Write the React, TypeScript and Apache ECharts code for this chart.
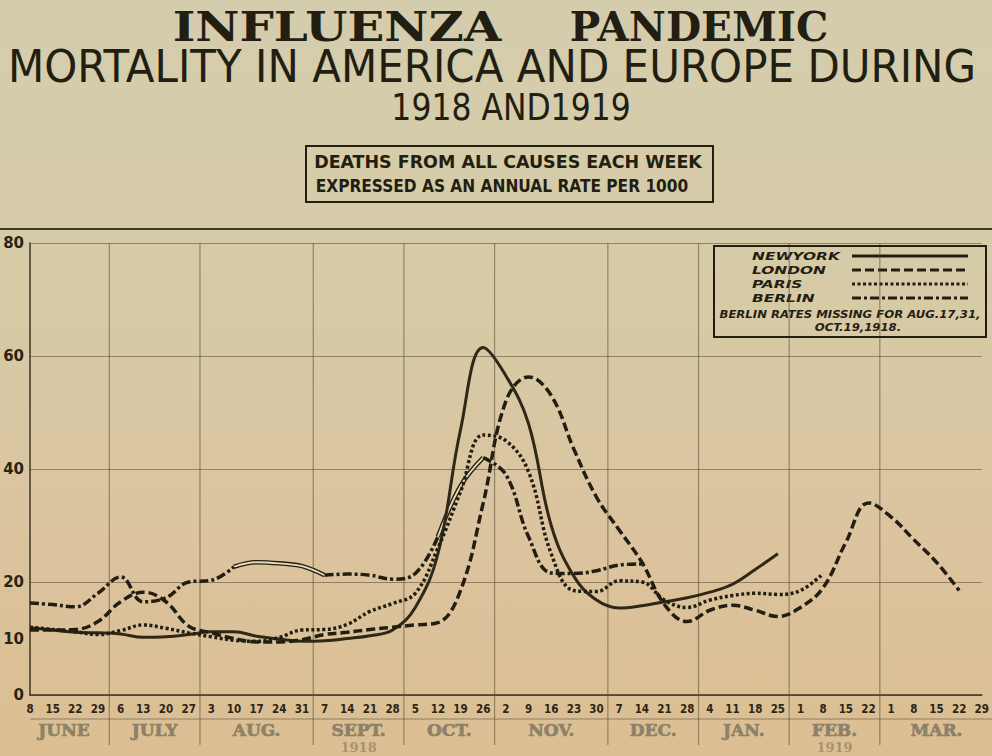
import React, { useEffect, useRef } from 'react';
import * as echarts from 'echarts';

// ---- data ----
const weekLabels = ['8','15','22','29','6','13','20','27','3','10','17','24','31','7','14','21','28','5','12','19','26','2','9','16','23','30','7','14','21','28','4','11','18','25','1','8','15','22','1','8','15','22','29'];
const monthNames = ['JUNE','JULY','AUG.','SEPT.','OCT.','NOV.','DEC.','JAN.','FEB.','MAR.'];
const monthWeeks = [4, 4, 5, 4, 4, 5, 4, 4, 4, 5];
const yearLabels = [{ text: '1918', month: 3 }, { text: '1919', month: 8 }];
const yTickLabels = [0, 10, 20, 40, 60, 80];
const seriesNames = ['NEWYORK', 'LONDON', 'PARIS', 'BERLIN'];

const newYork = [11.9,11.5,11.1,11.0,10.8,10.2,10.3,10.7,11.2,11.2,10.4,9.9,9.5,9.6,10.0,10.5,11.5,15.5,25,47,61.5,56.5,48,30,21,16.8,15.4,15.8,16.5,17.2,18.2,19.6,22.2,25.0];
const london = [11.5,11.5,11.6,13.0,16.5,18.2,16.5,12.2,11.0,10.0,9.4,9.4,9.8,10.7,11.1,11.6,12.0,12.4,12.8,18.5,34,52,56.3,53,43.5,35,29.2,23.5,16,13,15,15.9,15.0,13.9,15.5,19,27,34,31.5,27.5,23.5,18.5];
const paris = [12.0,11.6,11.2,10.7,11.4,12.4,11.8,11.0,10.3,9.7,9.5,10.2,11.5,11.6,12.5,14.8,16.2,18.0,26,36,46,45,39.5,25,18.5,18.3,20.2,20.0,16.8,15.5,16.8,17.6,18.0,17.8,18.5,21.5];
const berlin = [16.3,16.0,15.6,18.0,20.9,16.5,17.2,20.0,20.3,22.7,null,23.3,null,21.2,21.4,21.2,20.5,21.5,28,null,42,39,28,21.6,21.5,22.0,23.0,23.2];
const berlinEstimated = [null,null,null,null,null,null,null,null,null,22.7,23.5,23.3,22.8,21.2,null,null,null,null,28,37,42];

const INK = '#231e12';
const GRID = 'rgba(85,75,50,0.55)';
const legendDash: (number[] | null)[] = [null, [9, 4], [3, 2.5], [9, 3, 3, 3]];

export default function App() {
  const ref = useRef<HTMLDivElement>(null);
  useEffect(() => {
    if (!ref.current) return;
    const chart = echarts.init(ref.current, undefined, { renderer: 'svg' });
    let acc = 0;
    const monthSpans = monthWeeks.map((w) => {
      const s = acc - 0.5;
      acc += w;
      return [s, acc - 0.5];
    });
    const legendFont = { fill: INK, fontFamily: 'DejaVu Sans', fontStyle: 'italic', fontWeight: 'bold', fontSize: 11, verticalAlign: 'middle' };
    const legendGraphics: any[] = [];
    seriesNames.forEach((n, i) => {
      const y = 256 + i * 14;
      legendGraphics.push({ type: 'text', x: 752, y, scaleX: 1.4, style: { ...legendFont, text: n, align: 'left' } });
      legendGraphics.push({
        type: 'line', shape: { x1: 852, y1: y, x2: 968, y2: y },
        style: { stroke: INK, lineWidth: 3, lineDash: legendDash[i] || undefined },
      });
    });
    const noteFont = { fill: INK, fontFamily: 'DejaVu Sans Condensed, DejaVu Sans', fontStyle: 'italic', fontWeight: 'bold', fontSize: 10, align: 'center', verticalAlign: 'middle' };
    const option: any = {
      animation: false,
      backgroundColor: new echarts.graphic.LinearGradient(0, 0, 0, 1, [
        { offset: 0, color: '#d4cdad' },
        { offset: 0.35, color: '#d6cba7' },
        { offset: 0.7, color: '#dbc49f' },
        { offset: 1, color: '#dcbe92' },
      ]),
      grid: { left: 30, right: 9, top: 243, bottom: 61 },
      xAxis: [
        {
          type: 'category',
          data: weekLabels,
          boundaryGap: false,
          axisLine: { lineStyle: { color: '#3e3624', width: 1.5 } },
          axisTick: { show: false },
          axisLabel: { interval: 0, color: '#2c2616', fontSize: 11.5, fontWeight: 'bold', fontFamily: 'DejaVu Sans Condensed, DejaVu Sans', margin: 8 },
          splitLine: { show: false },
        },
        { type: 'value', min: 0, max: 42, show: false },
      ],
      yAxis: [
        {
          type: 'value',
          min: 0,
          max: 80,
          interval: 10,
          axisLine: { show: true, lineStyle: { color: '#3e3624', width: 1.5 } },
          axisTick: { show: false },
          splitLine: { show: false },
          axisLabel: {
            color: '#2a2416', fontSize: 15, fontWeight: 'bold', fontFamily: 'DejaVu Sans', margin: 6,
            formatter: (v: number) => (yTickLabels.includes(v) ? String(v) : ''),
          },
        },
        {
          type: 'value', min: 0, max: 80, interval: 20, position: 'left',
          axisLine: { show: false }, axisTick: { show: false }, axisLabel: { show: false },
          splitLine: { show: true, lineStyle: { color: GRID, width: 1.2 } },
        },
      ],
      graphic: [
        { type: 'text', x: 337, y: 27, scaleX: 1.18, style: { text: 'INFLUENZA', fill: INK, fontFamily: 'DejaVu Serif', fontWeight: 900, fontSize: 41, align: 'center', verticalAlign: 'middle' } },
        { type: 'text', x: 699, y: 27, scaleX: 0.99, style: { text: 'PANDEMIC', fill: INK, fontFamily: 'DejaVu Serif', fontWeight: 900, fontSize: 41, align: 'center', verticalAlign: 'middle' } },
        { type: 'text', x: 492, y: 67, scaleX: 0.955, style: { text: 'MORTALITY IN AMERICA AND EUROPE DURING', fill: INK, fontFamily: 'DejaVu Sans', fontSize: 44, align: 'center', verticalAlign: 'middle' } },
        { type: 'text', x: 511, y: 107, scaleX: 0.85, style: { text: '1918 AND1919', fill: INK, fontFamily: 'DejaVu Sans', fontSize: 37, align: 'center', verticalAlign: 'middle' } },
        { type: 'rect', shape: { x: 306, y: 146, width: 407, height: 56 }, style: { fill: 'none', stroke: INK, lineWidth: 2 } },
        { type: 'text', x: 508, y: 162, scaleX: 1.11, style: { text: 'DEATHS FROM ALL CAUSES EACH WEEK', fill: INK, fontFamily: 'DejaVu Sans Condensed, DejaVu Sans', fontWeight: 'bold', fontSize: 17.5, align: 'center', verticalAlign: 'middle' } },
        { type: 'text', x: 502, y: 186, scaleX: 0.98, style: { text: 'EXPRESSED AS AN ANNUAL RATE PER 1000', fill: INK, fontFamily: 'DejaVu Sans Condensed, DejaVu Sans', fontWeight: 'bold', fontSize: 17.5, align: 'center', verticalAlign: 'middle' } },
        { type: 'line', shape: { x1: 0, y1: 229, x2: 992, y2: 229 }, style: { stroke: '#3e3624', lineWidth: 2 } },
        { type: 'line', shape: { x1: 30, y1: 719, x2: 992, y2: 719 }, style: { stroke: GRID, lineWidth: 1 } },
        { type: 'rect', shape: { x: 714, y: 246, width: 272, height: 91 }, style: { fill: 'none', stroke: INK, lineWidth: 2 }, z: 10 },
        ...legendGraphics,
        { type: 'text', x: 850, y: 315, scaleX: 1.3, style: { ...noteFont, text: 'BERLIN RATES MISSING FOR AUG.17,31,' } },
        { type: 'text', x: 858, y: 328, scaleX: 1.3, style: { ...noteFont, text: 'OCT.19,1918.' } },
      ],
      series: [
        {
          type: 'custom',
          xAxisIndex: 1,
          yAxisIndex: 0,
          clip: false,
          silent: true,
          data: monthSpans,
          renderItem: (params: any, api: any) => {
            const s = api.value(0);
            const e = api.value(1);
            const i = params.dataIndex;
            const top = api.coord([s, 80]);
            const bottom = api.coord([s, 0]);
            const center = api.coord([(s + e) / 2, 0]);
            const children: any[] = [
              {
                type: 'text', x: center[0], y: bottom[1] + 35,
                style: { text: monthNames[i], fill: '#8b826b', stroke: 'rgba(60,52,35,0.6)', lineWidth: 0.6, fontFamily: 'DejaVu Serif', fontWeight: 'bold', fontSize: 17, align: 'center', verticalAlign: 'middle' },
              },
            ];
            if (i > 0) {
              children.push({ type: 'line', shape: { x1: top[0], y1: top[1], x2: top[0], y2: bottom[1] + 50 }, style: { stroke: GRID, lineWidth: 1.2 } });
            }
            const yr = yearLabels.find((y) => y.month === i);
            if (yr) {
              children.push({ type: 'text', x: center[0], y: bottom[1] + 52, style: { text: yr.text, fill: 'rgba(120,108,82,0.55)', fontFamily: 'DejaVu Serif', fontWeight: 'bold', fontSize: 13, align: 'center', verticalAlign: 'middle' } });
            }
            return { type: 'group', children };
          },
        },
        {
          name: 'BERLIN-est-outer', type: 'line', data: berlinEstimated, smooth: 0.4, symbol: 'none', connectNulls: false,
          color: INK, lineStyle: { color: INK, width: 4.5 }, z: 3,
        },
        {
          name: 'BERLIN-est-inner', type: 'line', data: berlinEstimated, smooth: 0.4, symbol: 'none', connectNulls: false,
          color: INK, lineStyle: { color: '#e6dcbc', width: 1.8 }, z: 4,
        },
        {
          name: 'NEWYORK', type: 'line', data: newYork, smooth: 0.4, symbol: 'none', color: INK,
          lineStyle: { color: '#2f2816', width: 3, type: 'solid' }, z: 5,
        },
        {
          name: 'LONDON', type: 'line', data: london, smooth: 0.4, symbol: 'none', color: INK,
          lineStyle: { color: INK, width: 3.5, type: [9, 4] }, z: 5,
        },
        {
          name: 'PARIS', type: 'line', data: paris, smooth: 0.4, symbol: 'none', color: INK,
          lineStyle: { color: INK, width: 3.5, type: [3, 2.5] }, z: 5,
        },
        {
          name: 'BERLIN', type: 'line', data: berlin, smooth: 0.4, symbol: 'none', connectNulls: false, color: INK,
          lineStyle: { color: INK, width: 3.5, type: [9, 3, 3, 3] }, z: 5,
        },
      ],
    };
    chart.setOption(option);
    return () => chart.dispose();
  }, []);
  return <div ref={ref} style={{ position: 'fixed', left: 0, top: 0, width: 992, height: 756 }} />;
}
